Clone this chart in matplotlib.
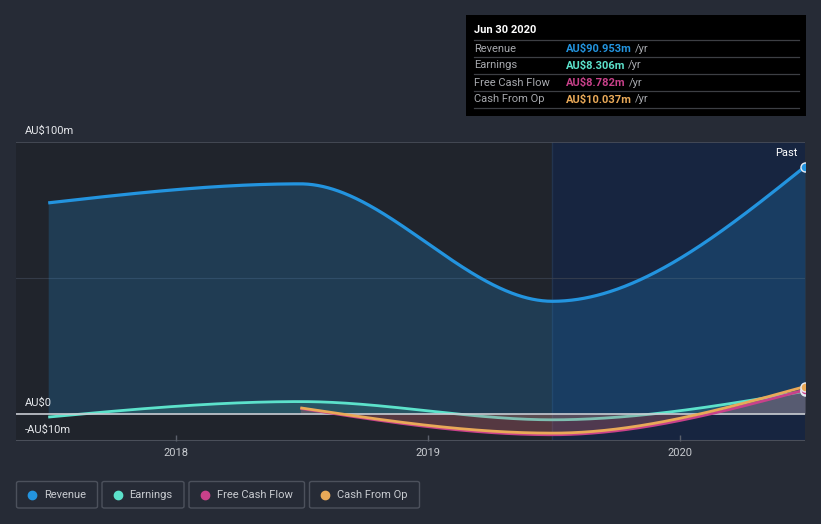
import numpy as np
import pandas as pd
import matplotlib
matplotlib.use("Agg")
import matplotlib.pyplot as plt
from matplotlib.patches import FancyBboxPatch, Rectangle

plt.rcParams['font.family'] = ['Roboto', 'DejaVu Sans']

# ---------------- data (AU$ millions) ----------------
dates = ["2017-06-30", "2018-06-30", "2019-06-30", "2020-06-30"]
revenue = [77.6, 84.6, 41.4, 90.953]
earnings = [-1.2, 4.5, -2.2, 8.306]
fcf_dates = ["2018-06-30", "2019-06-30", "2020-06-30"]
free_cash_flow = [2.0, -7.7, 8.782]
cash_from_op = [2.2, -7.1, 10.037]

series_names = ["Revenue", "Earnings", "Free Cash Flow", "Cash From Op"]
series_colors = ["#2394df", "#5ce2cb", "#c8418a", "#e9a958"]
tooltip_title = "Jun 30 2020"
tooltip_values = ["AU$90.953m", "AU$8.306m", "AU$8.782m", "AU$10.037m"]
y_tick_vals = [100, 0, -10]
y_tick_labels = ["AU$100m", "AU$0", "-AU$10m"]
x_tick_vals = [2018, 2019, 2020]
x_tick_labels = ["2018", "2019", "2020"]


def dec_year(ds):
    out = []
    for d in pd.to_datetime(ds):
        start = pd.Timestamp(year=d.year, month=1, day=1)
        end = pd.Timestamp(year=d.year + 1, month=1, day=1)
        out.append(d.year + (d - start) / (end - start))
    return np.array(out)


def monotone(x, y, n=200):
    """d3 curveMonotoneX style cubic Hermite interpolation for drawing."""
    x = np.asarray(x, float)
    y = np.asarray(y, float)
    m = len(x)
    h = np.diff(x)
    s = np.diff(y) / h
    t = np.zeros(m)
    for i in range(1, m - 1):
        p = (s[i - 1] * h[i] + s[i] * h[i - 1]) / (h[i - 1] + h[i])
        t[i] = (np.sign(s[i - 1]) + np.sign(s[i])) * min(abs(s[i - 1]), abs(s[i]), 0.5 * abs(p))
    if m > 2:
        t[0] = (3 * s[0] - t[1]) / 2
        t[-1] = (3 * s[-1] - t[-2]) / 2
    else:
        t[0] = t[-1] = s[0]
    xs, ys = [], []
    for i in range(m - 1):
        u = np.linspace(0, 1, n)
        h00 = 2 * u**3 - 3 * u**2 + 1
        h10 = u**3 - 2 * u**2 + u
        h01 = -2 * u**3 + 3 * u**2
        h11 = u**3 - u**2
        xs.append(x[i] + u * h[i])
        ys.append(h00 * y[i] + h10 * h[i] * t[i] + h01 * y[i + 1] + h11 * h[i] * t[i + 1])
    return np.concatenate(xs), np.concatenate(ys)


W, H = 821, 524
fig = plt.figure(figsize=(W / 100, H / 100), dpi=100)
fig.patch.set_facecolor("#262b36")

x0_px, x1_px = 16, 805
ytop_px, ybot_px = 142, 441
ax = fig.add_axes([x0_px / W, 1 - ybot_px / H, (x1_px - x0_px) / W, (ybot_px - ytop_px) / H])
ax.set_facecolor("#20242c")
for sp in ax.spines.values():
    sp.set_visible(False)

xr = dec_year(dates)
xf = dec_year(fcf_dates)
# last data point sits on the right edge; 2018 -> px 176
xmax = xr[-1]
ppy = (x1_px - 176) / (xmax - 2018)
xmin = 2018 - (176 - x0_px) / ppy
ax.set_xlim(xmin, xmax)
ax.set_ylim(-10, 100)

# highlighted region (last year)
ax.axvspan(xr[2], xmax, color="#172540", zorder=0, lw=0)
ax.axvline(xr[2], color="#22344f", lw=1, zorder=0.5)

# grid lines
ax.axhline(100, color="#4a4f5a", lw=1.2, zorder=1)
ax.axhline(50, color="#3a4150", lw=0.8, zorder=1, alpha=0.8)
ax.axhline(-10, color="#4a4f5a", lw=1.5, zorder=1)

# Revenue
cx, cy = monotone(xr, revenue)
ax.fill_between(cx, cy, 0, color=series_colors[0], alpha=0.22, lw=0, zorder=2)
ax.plot(cx, cy, color=series_colors[0], lw=2.3, zorder=6, solid_capstyle="butt")

# Earnings
ex, ey = monotone(xr, earnings)
ax.fill_between(ex, ey, 0, color=series_colors[1], alpha=0.15, lw=0, zorder=2)
ax.plot(ex, ey, color=series_colors[1], lw=2.0, zorder=3, solid_capstyle="butt")

# FCF and CFO
fx, fy = monotone(xf, free_cash_flow)
ox, oy = monotone(xf, cash_from_op)
ax.fill_between(fx, fy, 0, color=series_colors[2], alpha=0.2, lw=0, zorder=4)
ax.fill_between(ox, oy, 0, color=series_colors[3], alpha=0.12, lw=0, zorder=4)

# zero line
ax.axhline(0, color="#c9ccd2", lw=1.2, zorder=4.5)

ax.plot(fx, fy, color=series_colors[2], lw=2.0, zorder=5, solid_capstyle="butt")
ax.plot(ox, oy, color=series_colors[3], lw=2.0, zorder=5.5, solid_capstyle="butt")

# end markers (clipped at right edge like the reference)
ends = [(xr[-1], revenue[-1], 0), (xr[-1], earnings[-1], 1),
        (xf[-1], free_cash_flow[-1], 2), (xf[-1], cash_from_op[-1], 3)]
for ex_, ey_, ci in ends:
    ax.plot([ex_], [ey_], marker="o", ms=6.5, mfc=series_colors[ci], mec="#e8ecf4",
            mew=1.0, zorder=8, clip_on=True)

# x ticks
ax.set_xticks(x_tick_vals)
ax.set_xticklabels(x_tick_labels)
ax.tick_params(axis="x", colors="#5a5f6a", length=4, width=1, labelcolor="#c8cbd0",
               labelsize=8, pad=5, direction="in")
ax.set_yticks([])

# y labels (above lines)
for v, lab in zip(y_tick_vals, y_tick_labels):
    ypx = 414 - v * 2.72
    fig.text(25 / W, 1 - (ypx - 6) / H, lab, color="#e6e8ec", fontsize=8,
             ha="left", va="bottom")

# "Past" label
fig.text(797 / W, 1 - 153 / H, "Past", color="#ffffff", fontsize=8, ha="right", va="center")

# tooltip box
fig.patches.append(Rectangle((466 / W, 1 - 116 / H), 340 / W, 101 / H, transform=fig.transFigure,
                             facecolor="#000000", edgecolor="none", zorder=10))
fig.text(474 / W, 1 - 30 / H, tooltip_title, color="#ffffff", fontsize=8, fontweight="bold",
         ha="left", va="center", zorder=11)
for yl in [40, 57, 74, 91, 108]:
    fig.add_artist(plt.Line2D([474 / W, 799 / W], [1 - yl / H, 1 - yl / H], color="#3d3f44",
                              lw=0.9, zorder=11))
for i, (nm, val) in enumerate(zip(series_names, tooltip_values)):
    yc = 48.5 + 17 * i
    fig.text(474 / W, 1 - yc / H, nm, color="#a7a9ae", fontsize=8, ha="left", va="center", zorder=11)
    t = fig.text(566 / W, 1 - yc / H, val, color=series_colors[i], fontsize=8, fontweight="bold",
                 ha="left", va="center", zorder=11)
    fig.canvas.draw()
    bb = t.get_window_extent()
    fig.text((bb.x1 + 3) / W, 1 - yc / H, "/yr", color="#a7a9ae", fontsize=8, ha="left",
             va="center", zorder=11)

# legend boxes
boxes = [(16.5, 97.5), (102, 184), (189, 304.5), (309.5, 419.5)]
for (bx0, bx1), nm, col in zip(boxes, series_names, series_colors):
    fig.patches.append(FancyBboxPatch((bx0 / W, 1 - 508 / H), (bx1 - bx0) / W, 26.5 / H,
                                      boxstyle="round,pad=0,rounding_size=0.003",
                                      transform=fig.transFigure, facecolor="none",
                                      edgecolor="#4c515c", lw=1.0))
    fig.add_artist(plt.Line2D([(bx0 + 15.5) / W], [1 - 494.5 / H], marker="o", ms=6,
                              mfc=col, mec=col, lw=0))
    fig.text((bx0 + 27.5) / W, 1 - 494.5 / H, nm, color="#c8cbd0", fontsize=8,
             ha="left", va="center")

fig.savefig("out.png", dpi=100, facecolor=fig.get_facecolor())
